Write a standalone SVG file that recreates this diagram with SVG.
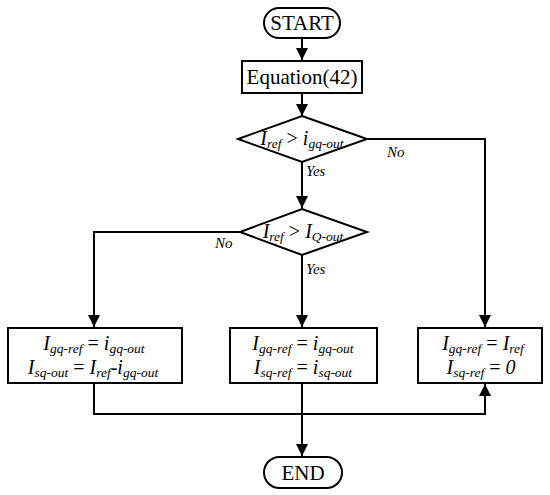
<svg xmlns="http://www.w3.org/2000/svg" width="550" height="495" viewBox="0 0 550 495">
<style>
.s{fill:#fff;stroke:#000;stroke-width:2}
.c{fill:none;stroke:#000;stroke-width:2}
.t{font-family:"Liberation Serif","Times New Roman",serif;font-size:21px;fill:#000;text-anchor:middle}
.m{font-family:"Liberation Serif","Times New Roman",serif;font-size:20px;font-style:italic;fill:#000;text-anchor:middle}
.l{font-family:"Liberation Serif","Times New Roman",serif;font-size:15px;font-style:italic;fill:#000}
.b{font-size:13.5px}
.u{font-style:normal}
</style>
<defs>
<marker id="a" markerUnits="userSpaceOnUse" markerWidth="12" markerHeight="14" viewBox="0 0 12 14" refX="12" refY="6" orient="auto">
<path d="M0,0 L12,6 L0,12 z" fill="#000"/>
</marker>
</defs>
<g id="connectors">
<path class="c" d="M302,39 V60" marker-end="url(#a)"/>
<path class="c" d="M302,94 V116" marker-end="url(#a)"/>
<path class="c" d="M368,139 H485 V327" marker-end="url(#a)"/>
<path class="c" d="M302,162 V208" marker-end="url(#a)"/>
<path class="c" d="M240,232 H94 V327" marker-end="url(#a)"/>
<path class="c" d="M302,255 V327" marker-end="url(#a)"/>
<path class="c" d="M94,384 V414 H485 V384" marker-end="url(#a)"/>
<path class="c" d="M302,384 V456" marker-end="url(#a)"/>
<text class="l" x="387" y="157">No</text>
<text class="l" x="306" y="176">Yes</text>
<text class="l" x="215" y="248">No</text>
<text class="l" x="306" y="274">Yes</text>
</g>
<g id="start">
<rect class="s" x="264" y="8" width="76" height="30" rx="15"/>
<text class="t" x="302" y="30">START</text>
</g>
<g id="equation">
<rect class="s" x="242" y="61" width="120" height="32"/>
<text class="t" x="302" y="84">Equation(42)</text>
</g>
<g id="decision1">
<polygon class="s" points="302,116 367,139 302,162 238,139"/>
<text class="m" x="302" y="145">I<tspan class="b" dy="3">ref</tspan><tspan class="u" dy="-3"> &gt; </tspan>i<tspan class="b" dy="3">gq-out</tspan></text>
</g>
<g id="decision2">
<polygon class="s" points="302,209 367,232 302,255 240,232"/>
<text class="m" x="303" y="238">I<tspan class="b" dy="3">ref</tspan><tspan class="u" dy="-3"> &gt; </tspan>I<tspan class="b" dy="3">Q-out</tspan></text>
</g>
<g id="box-left">
<rect class="s" x="8" y="328" width="174" height="55"/>
<text class="m" x="94" y="350">I<tspan class="b" dy="3">gq-ref</tspan><tspan class="u" dy="-3"> = </tspan>i<tspan class="b" dy="3">gq-out</tspan></text>
<text class="m" x="93" y="374">I<tspan class="b" dy="3">sq-out</tspan><tspan class="u" dy="-3"> = </tspan>I<tspan class="b" dy="3">ref</tspan><tspan dy="-3">-i</tspan><tspan class="b" dy="3">gq-out</tspan></text>
</g>
<g id="box-middle">
<rect class="s" x="230" y="328" width="147" height="55"/>
<text class="m" x="303" y="350">I<tspan class="b" dy="3">gq-ref</tspan><tspan class="u" dy="-3"> = </tspan>i<tspan class="b" dy="3">gq-out</tspan></text>
<text class="m" x="303" y="374">I<tspan class="b" dy="3">sq-ref</tspan><tspan class="u" dy="-3"> = </tspan>i<tspan class="b" dy="3">sq-out</tspan></text>
</g>
<g id="box-right">
<rect class="s" x="418" y="328" width="124" height="55"/>
<text class="m" x="483" y="350">I<tspan class="b" dy="3">gq-ref</tspan><tspan class="u" dy="-3"> = </tspan>I<tspan class="b" dy="3">ref</tspan></text>
<text class="m" x="481" y="374">I<tspan class="b" dy="3">sq-ref</tspan><tspan class="u" dy="-3"> = </tspan>0</text>
</g>
<g id="end">
<rect class="s" x="264" y="457" width="78" height="31" rx="15.5"/>
<text class="t" x="303" y="480">END</text>
</g>
</svg>
